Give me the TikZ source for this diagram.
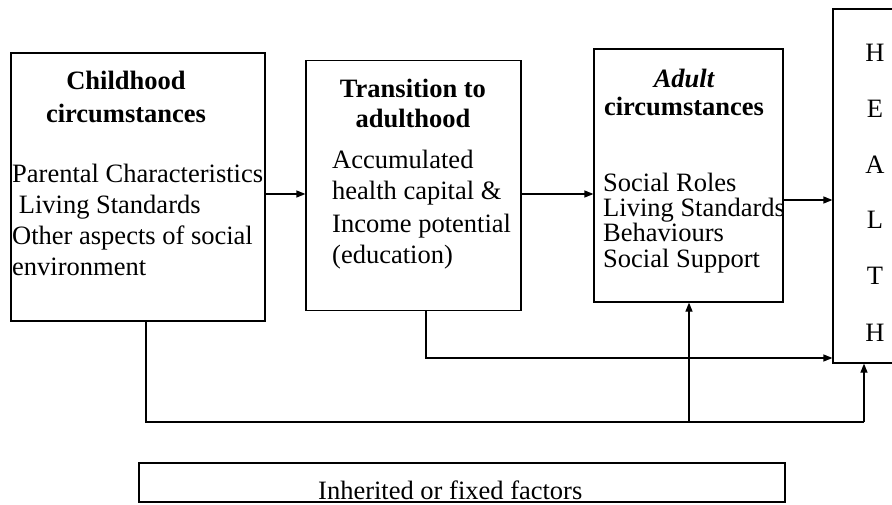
\documentclass[tikz,border=0pt]{standalone}
\usepackage{fontspec}
\setmainfont{Liberation Serif}
\usetikzlibrary{positioning,arrows.meta}

\tikzset{
  box/.style={draw, line width=1.2pt, inner sep=0pt},
  head/.style={font=\fontsize{26.5}{31}\selectfont\bfseries, align=center, inner sep=0pt},
  body/.style={align=left, inner sep=0pt, anchor=base west},
  arr/.style={-{Triangle[length=9pt,width=7pt]}, line width=1.2pt},
  link/.style={line width=1.2pt},
}

\begin{document}
\begin{tikzpicture}[x=1pt,y=-1pt]
  \useasboundingbox (0,0) rectangle (892,505);

  % the four stages
  \node[box, minimum width=254, minimum height=268] (child) at (138,187) {};
  \node[box, minimum width=215, minimum height=250] (trans) at (413.5,185.5) {};
  \node[box, minimum width=189, minimum height=253] (adult) at (688.5,175.5) {};
  \node[box, minimum width=84, minimum height=354] (health) at (875,186) {};
  \node[box, minimum width=646, minimum height=39] (fixed) at (462,482.5) {};

  % headings (base = last line)
  \node[head, anchor=base] (childhd) at (126,123) {Childhood\\[2pt]circumstances};
  \node[head, anchor=base] (transhd) at (413,128) {Transition to\\[-1pt]adulthood};
  \node[head, anchor=base] (adulthd) at (684,116) {\itshape Adult\\[-3pt]circumstances};

  % contents
  \node[body, font=\fontsize{26.5}{31}\selectfont] (childtx) at (12,276)
    {Parental Characteristics\\ \ Living Standards\\Other aspects of social\\environment};
  \node[body, font=\fontsize{26.5}{32}\selectfont] (transtx) at (332,264)
    {Accumulated\\health capital \&\\Income potential\\(education)};
  \node[body, font=\fontsize{26.5}{25.5}\selectfont] (adulttx) at (603,267.5)
    {Social Roles\\Living Standards\\Behaviours\\Social Support};
  \node[body, anchor=base, align=center, font=\fontsize{26.5}{56}\selectfont] (healthtx) at (875,341)
    {H\\E\\A\\L\\T\\H};
  \node[body, font=\fontsize{26.5}{31}\selectfont] (fixedtx) at (318,499)
    {Inherited or fixed factors};

  % joints of the lower paths
  \coordinate (flow) at (0,194);
  \coordinate (tdrop) at (426,358);
  \coordinate (cdrop) at (146,422);
  \coordinate (adrop) at (689,422);
  \coordinate (hdrop) at (864,422);

  \draw[arr] (child.east |- flow) -- (trans.west |- flow);
  \draw[arr] (trans.east |- flow) -- (adult.west |- flow);
  \draw[arr] (adult.east |- 0,200) -- (health.west |- 0,200);
  \draw[arr] (trans.south -| tdrop) -- (tdrop) -- (health.west |- tdrop);
  \draw[link] (child.south -| cdrop) -- (cdrop) -- (hdrop);
  \draw[arr] (hdrop) -- (health.south -| hdrop);
  \draw[arr] (adrop) -- (adult.south -| adrop);
\end{tikzpicture}
\end{document}
